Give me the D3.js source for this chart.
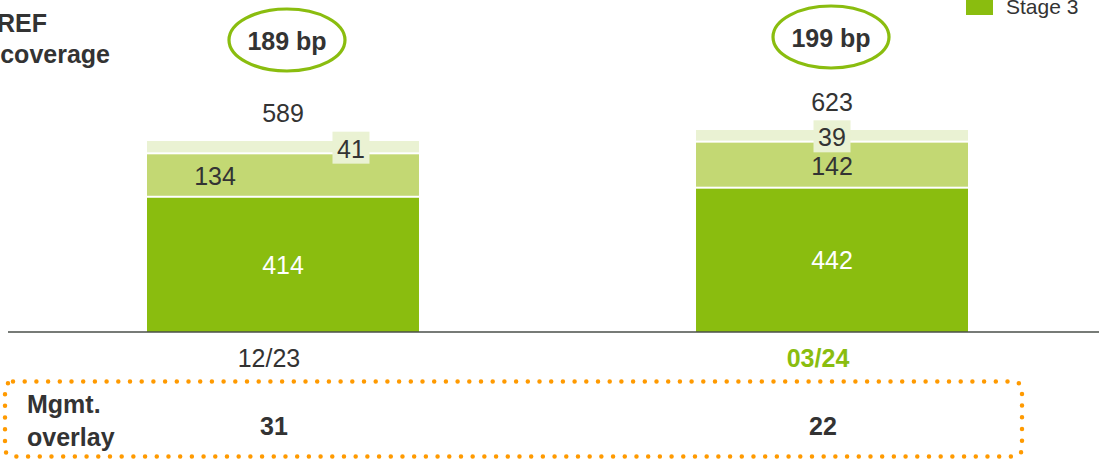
<!DOCTYPE html>
<html>
<head>
<meta charset="utf-8">
<script src="https://cdn.jsdelivr.net/npm/d3@7"></script>
<style>
  html, body { margin: 0; padding: 0; background: #fff; }
  svg { display: block; font-family: "Liberation Sans", Arial, sans-serif; }
</style>
</head>
<body>
<svg id="chart" width="1099" height="461"></svg>
<script>
// Loan loss provision stock by stage, two reporting dates
const periods = ["12/23", "03/24"];
const stage3 = [414, 442];
const stage2 = [134, 142];
const stage1 = [41, 39];
const totals = [589, 623];
const coverageBp = [189, 199];
const overlay = [31, 22];

const colors = { stage3: "#8ABD0F", stage2: "#C3D873", stage1: "#EAF2D3" };
const textColor = "#333333";

const svg = d3.select("#chart");
const W = 1099, H = 461;
const baseY = 332;

const x = d3.scaleBand()
  .domain(periods)
  .range([147, 968])
  .paddingInner(0.5046)
  .paddingOuter(0);

const y = d3.scaleLinear()
  .domain([0, 623])
  .range([baseY, 130]);

const bw = x.bandwidth();
const gap = 2;

// stacked segments, bottom to top
const rows = periods.map((p, i) => {
  const segs = [];
  let acc = 0;
  [["stage3", stage3[i]], ["stage2", stage2[i]], ["stage1", stage1[i]]].forEach(([k, v]) => {
    segs.push({ key: k, v, y0: acc, y1: acc + v });
    acc += v;
  });
  return { p, i, segs };
});

const bars = svg.append("g");
rows.forEach(r => {
  r.segs.forEach((s, j) => {
    const top = y(s.y1);
    const bottom = y(s.y0) - (j === 0 ? 0 : gap);
    bars.append("rect")
      .attr("x", x(r.p))
      .attr("y", top)
      .attr("width", bw)
      .attr("height", bottom - top)
      .attr("fill", colors[s.key]);
  });
});

// axis baseline
svg.append("line")
  .attr("x1", 8).attr("x2", W)
  .attr("y1", baseY).attr("y2", baseY)
  .attr("stroke", "#4a4f4a").attr("stroke-width", 1.6);

const cx = p => x(p) + bw / 2;
const fs = 25;

// value labels
rows.forEach(r => {
  const c = cx(r.p);
  const [s3, s2, s1] = r.segs;
  const mid = s => (y(s.y0) + y(s.y1)) / 2;

  svg.append("text")
    .attr("x", c).attr("y", mid(s3) + 9)
    .attr("text-anchor", "middle")
    .attr("font-size", fs).attr("fill", "#fff")
    .text(s3.v);

  const off2 = r.i === 0 ? -68 : 0;
  svg.append("text")
    .attr("x", c + off2).attr("y", mid(s2) + 9)
    .attr("text-anchor", "middle")
    .attr("font-size", fs).attr("fill", textColor)
    .text(s2.v);

  const off1 = r.i === 0 ? 68 : 0;
  svg.append("rect")
    .attr("x", c + off1 - 18.5).attr("y", mid(s1) - 16)
    .attr("width", 37).attr("height", 32)
    .attr("fill", colors.stage1);
  svg.append("text")
    .attr("x", c + off1).attr("y", mid(s1) + 10)
    .attr("text-anchor", "middle")
    .attr("font-size", fs).attr("fill", textColor)
    .text(s1.v);

  svg.append("text")
    .attr("x", c).attr("y", y(totals[r.i]) - 19)
    .attr("text-anchor", "middle")
    .attr("font-size", fs).attr("fill", textColor)
    .text(totals[r.i]);

  // coverage bubble
  svg.append("ellipse")
    .attr("cx", c + (r.i === 0 ? 4 : -1)).attr("cy", r.i === 0 ? 40 : 37)
    .attr("rx", 58).attr("ry", 31)
    .attr("fill", "none")
    .attr("stroke", colors.stage3).attr("stroke-width", 3.2);
  svg.append("text")
    .attr("x", c + (r.i === 0 ? 4 : -1)).attr("y", r.i === 0 ? 50 : 47)
    .attr("text-anchor", "middle")
    .attr("font-size", fs).attr("font-weight", "bold").attr("fill", textColor)
    .text(coverageBp[r.i] + " bp");

  // period label
  const last = r.i === periods.length - 1;
  svg.append("text")
    .attr("x", c - 14).attr("y", 367)
    .attr("text-anchor", "middle")
    .attr("font-size", fs)
    .attr("font-weight", last ? "bold" : "normal")
    .attr("fill", last ? colors.stage3 : textColor)
    .text(r.p);

  // management overlay value
  svg.append("text")
    .attr("x", c - 9).attr("y", 435)
    .attr("text-anchor", "middle")
    .attr("font-size", fs).attr("font-weight", "bold").attr("fill", textColor)
    .text(overlay[r.i]);
});

// row title
const title = svg.append("text")
  .attr("font-size", fs).attr("font-weight", "bold").attr("fill", textColor)
  .attr("text-anchor", "end");
title.append("tspan").attr("x", 47).attr("y", 32).text("REF");
title.append("tspan").attr("x", 110).attr("y", 63).text("coverage");

// legend
svg.append("rect")
  .attr("x", 966).attr("y", -6).attr("width", 27).attr("height", 21)
  .attr("fill", colors.stage3);
svg.append("text")
  .attr("x", 1006).attr("y", 14)
  .attr("font-size", 21).attr("fill", textColor)
  .text("Stage 3");

// management overlay box
svg.append("rect")
  .attr("x", 5).attr("y", 381.5)
  .attr("width", 1017).attr("height", 75)
  .attr("rx", 8)
  .attr("fill", "none")
  .attr("stroke", "#FF9A00")
  .attr("stroke-width", 4.5)
  .attr("stroke-linecap", "round")
  .attr("stroke-dasharray", "0 11.7");

const ov = svg.append("text")
  .attr("font-size", fs).attr("font-weight", "bold").attr("fill", textColor);
ov.append("tspan").attr("x", 27).attr("y", 413).text("Mgmt.");
ov.append("tspan").attr("x", 27).attr("y", 446).text("overlay");
</script>
</body>
</html>
